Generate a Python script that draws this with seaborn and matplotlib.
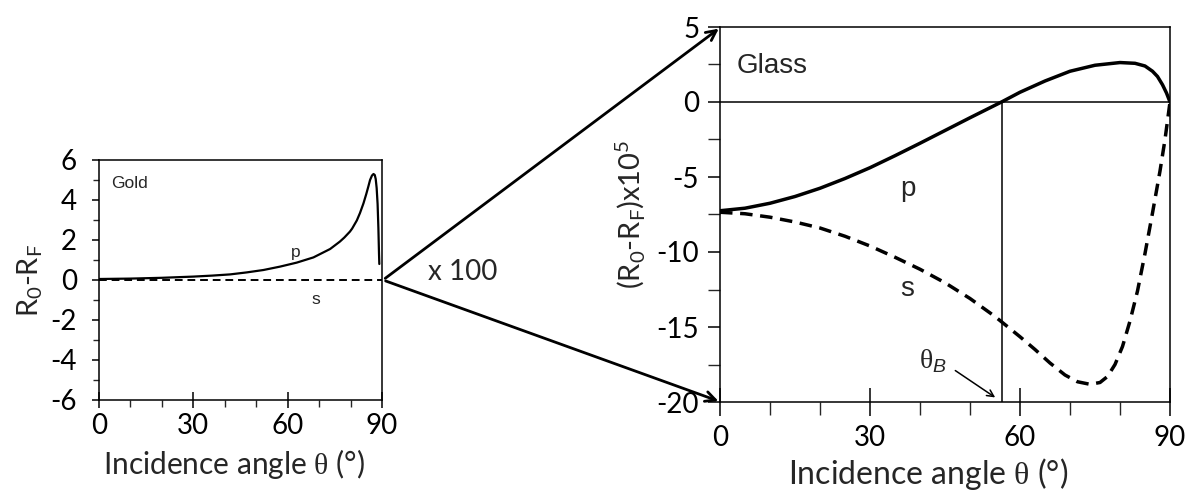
import matplotlib
matplotlib.use("Agg")
import matplotlib.pyplot as plt
import seaborn as sns
import pandas as pd
from matplotlib.patches import FancyArrowPatch
from matplotlib.ticker import MultipleLocator

sns.set_theme(style="ticks")
plt.rcParams["font.family"] = ["Lato", "DejaVu Sans"]
plt.rcParams["mathtext.fontset"] = "custom"
plt.rcParams["mathtext.rm"] = "Lato"
plt.rcParams["mathtext.it"] = "Liberation Sans:italic"
plt.rcParams["mathtext.sf"] = "Liberation Serif"
plt.rcParams["axes.unicode_minus"] = False

# Gold: reflectance difference (p and s polarisation)
gold_p_angle = [0, 10, 20, 30, 36, 41.7, 47, 52.3, 57.6, 62.9, 68.2, 73.5, 76.6, 78,
                79.8, 80.5, 82, 83, 84.1, 85, 85.7, 86.2, 86.8, 87.3, 87.7, 88.0, 88.3,
                88.6, 88.85, 89.05, 89.15]
gold_p_value = [0.05, 0.07, 0.11, 0.17, 0.22, 0.28, 0.38, 0.5, 0.67, 0.87, 1.13, 1.55,
                1.92, 2.12, 2.42, 2.57, 2.98, 3.35, 3.83, 4.3, 4.7, 5.0, 5.22, 5.3, 5.25,
                5.05, 4.6, 3.8, 2.6, 1.3, 0.8]
gold_s_angle = [0, 30, 60, 90]
gold_s_value = [0.0, 0.0, 0.0, 0.0]

# Glass: reflectance difference x 10^5
glass_p_angle = [0, 5, 10, 15, 20, 25, 30, 35, 40, 45, 50, 56.3, 60, 65, 70, 75, 80,
                 83, 85, 86.5, 87.5, 88.5, 89.3, 90]
glass_p_value = [-7.25, -7.08, -6.75, -6.3, -5.75, -5.1, -4.38, -3.58, -2.75, -1.9,
                 -1.05, 0.0, 0.65, 1.4, 2.05, 2.45, 2.63, 2.58, 2.4, 2.05, 1.7, 1.15,
                 0.6, 0.0]
glass_s_angle = [0, 5, 10, 15, 20, 25, 30, 35, 40, 45, 50, 55, 60, 63, 66, 69, 71.5,
                 74, 76, 77.5, 79, 80.5, 82, 83.5, 85, 86.5, 88, 89, 90]
glass_s_value = [-7.35, -7.45, -7.68, -8.0, -8.4, -8.95, -9.6, -10.35, -11.15, -12.05,
                 -13.1, -14.3, -15.65, -16.5, -17.4, -18.2, -18.65, -18.82, -18.7,
                 -18.3, -17.5, -16.3, -14.6, -12.6, -10.1, -7.4, -4.6, -2.5, 0.0]

brewster_angle = 56.3

x_ticks = [0, 30, 60, 90]
gold_y_ticks = [-6, -4, -2, 0, 2, 4, 6]
glass_y_ticks = [-20, -15, -10, -5, 0, 5]

W, H = 1196, 494
fig = plt.figure(figsize=(W / 100, H / 100), dpi=100)
ax1 = fig.add_axes([99 / W, 1 - 400 / H, (382 - 99) / W, (400 - 160) / H])
ax2 = fig.add_axes([720 / W, 1 - 402 / H, (1170 - 720) / W, (402 - 27) / H])

gold_p = pd.DataFrame({"angle": gold_p_angle, "value": gold_p_value})
gold_s = pd.DataFrame({"angle": gold_s_angle, "value": gold_s_value})
glass_p = pd.DataFrame({"angle": glass_p_angle, "value": glass_p_value})
glass_s = pd.DataFrame({"angle": glass_s_angle, "value": glass_s_value})

sns.lineplot(data=gold_p, x="angle", y="value", ax=ax1, color="black", lw=1.6, sort=False)
sns.lineplot(data=gold_s, x="angle", y="value", ax=ax1, color="black", lw=1.4,
             sort=False).lines[-1].set_dashes([4, 2.5])

sns.lineplot(data=glass_p, x="angle", y="value", ax=ax2, color="black", lw=2.5, sort=False)
sns.lineplot(data=glass_s, x="angle", y="value", ax=ax2, color="black", lw=2.5,
             sort=False).lines[-1].set_dashes([3.6, 2.2])

ax2.axhline(0, color="black", lw=1.1, zorder=1)
ax2.plot([brewster_angle, brewster_angle], [-20, 0], color="black", lw=1.1, zorder=1)

tick_fs = 20
xlabel_text = "Incidence angle $\\mathsf{\\theta}$ (°)"

for ax in (ax1, ax2):
    ax.set_xlim(0, 90)
    ax.set_xticks(x_ticks)
    ax.xaxis.set_minor_locator(MultipleLocator(10))
    for s in ax.spines.values():
        s.set_visible(True)
        s.set_linewidth(1.1)
        s.set_color("black")
    ax.tick_params(colors="black", labelsize=tick_fs, width=1.1)
    ax.tick_params(which="minor", width=1.0)

ax1.set_ylim(-6, 6)
ax1.set_yticks(gold_y_ticks)
ax1.yaxis.set_minor_locator(MultipleLocator(1))
ax1.tick_params(axis="x", which="major", direction="inout", length=12, pad=3)
ax1.tick_params(axis="x", which="minor", direction="out", length=5)
ax1.tick_params(axis="y", which="major", direction="out", length=5, pad=11)
ax1.tick_params(axis="y", which="minor", direction="out", length=4)
ax1.set_xlabel(xlabel_text, fontsize=21.5, labelpad=6)
ax1.xaxis.label.set_x(0.477)
ax1.set_ylabel("R$_\\mathregular{0}$-R$_\\mathregular{F}$", fontsize=21, labelpad=4)

ax2.set_ylim(-20, 5)
ax2.set_yticks(glass_y_ticks)
ax2.yaxis.set_minor_locator(MultipleLocator(2.5))
ax2.tick_params(axis="x", which="major", direction="inout", length=20, pad=6.5)
ax2.tick_params(axis="x", which="minor", direction="out", length=9)
ax2.tick_params(axis="y", which="major", direction="out", length=9, pad=6)
ax2.tick_params(axis="y", which="minor", direction="out", length=9)
ax2.set_xlabel(xlabel_text, fontsize=23, labelpad=4)
ax2.xaxis.label.set_x(0.462)
ax2.set_ylabel("(R$_\\mathregular{0}$-R$_\\mathregular{F}$)x10$^\\mathregular{5}$",
               fontsize=21, labelpad=6)

# curve labels
inner = ["Liberation Sans", "DejaVu Sans"]
ax1.text(4, 4.8, "Gold", fontsize=12.5, va="center", ha="left", family=inner)
ax1.text(62.5, 1.35, "p", fontsize=12.5, va="center", ha="center", family=inner)
ax1.text(69, -1.0, "s", fontsize=12.5, va="center", ha="center", family=inner)

ax2.text(3.3, 2.4, "Glass", fontsize=20, va="center", ha="left", family=inner)
ax2.text(37.5, -5.8, "p", fontsize=20, va="center", ha="center", family=inner)
ax2.text(37.5, -12.5, "s", fontsize=20, va="center", ha="center", family=inner)
ax2.text(42.5, -17.3, "θ$_{B}$", fontsize=20, va="center", ha="center",
         family=["Liberation Serif", "DejaVu Serif"])
ax2.annotate("", xy=(55.5, -19.8), xytext=(46.6, -17.8),
             arrowprops=dict(arrowstyle="->", color="black", lw=1.1))

# zoom arrows linking the two panels
apex = (383 / W, 1 - 280 / H)
for end in [(721 / W, 1 - 27 / H), (721 / W, 1 - 402 / H)]:
    fig.patches.append(FancyArrowPatch(apex, end, transform=fig.transFigure,
                                       arrowstyle="->", mutation_scale=18,
                                       color="black", lw=2.0))
fig.text(428 / W, 1 - 272 / H, "x 100", fontsize=20, va="center", ha="left")

fig.savefig("out.png", dpi=100)
